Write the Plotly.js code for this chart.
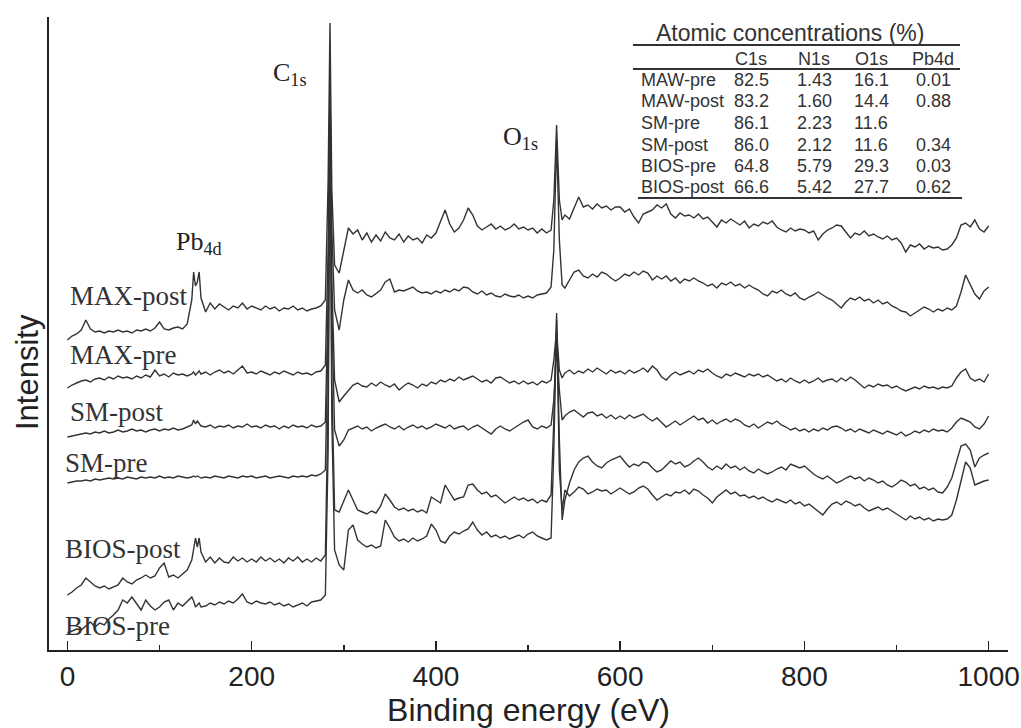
<!DOCTYPE html>
<html><head><meta charset="utf-8">
<script src="https://cdn.plot.ly/plotly-3.0.1.min.js"></script>
<style>html,body{margin:0;padding:0;background:#fff;} #chart{width:1021px;height:728px;}</style>
</head><body><div id="chart"></div>
<script>
// Binding energy grid (eV)
const energy = [
0,5,10,15,20,25,30,35,40,45,50,55,60,65,70,75,80,85,90,95,100,105,110,115,120,125,130,
135,137,139,141,143,145,
150,155,160,165,170,175,180,185,190,195,200,205,210,215,220,225,230,235,240,245,250,255,260,265,270,275,
280,283,285,287,290,
295,300,305,310,315,320,325,330,335,340,345,350,355,360,365,370,375,380,385,390,395,400,405,410,415,420,425,430,435,440,445,450,455,460,465,470,475,480,485,490,495,500,505,510,515,520,
525,528,531,534,537,
540,545,550,555,560,565,570,575,580,585,590,595,600,605,610,615,620,625,630,635,640,645,650,655,660,665,670,675,680,685,
690,695,700,705,710,715,720,725,730,735,740,745,750,755,760,765,770,775,780,785,790,795,800,805,810,815,820,825,830,835,
840,845,850,855,860,865,870,875,880,885,890,895,900,905,910,915,920,925,930,935,940,945,950,955,960,965,970,975,980,985,
990,995,1000];

// Offset intensities (arbitrary units)
const maxPost = [
310,314,316,320,330,321,318,319,317,319,318,320,318,319,317,320,319,321,319,322,328,321,320,322,323,321,326,
350,378,364,368,378,352,
338,347,341,346,343,340,344,342,347,341,344,342,340,344,341,343,339,342,341,344,340,342,339,341,342,344,
350,470,627,460,385,
377,400,422,416,420,410,417,408,415,409,418,412,410,416,408,414,410,412,407,415,412,417,428,440,426,418,422,430,442,435,424,420,423,426,421,424,420,422,426,421,423,420,422,417,421,417,
420,450,525,450,430,
435,431,442,453,443,445,441,446,442,444,440,443,443,438,441,433,427,436,438,440,445,442,446,436,432,437,434,435,432,436,
431,433,428,423,430,427,431,428,425,429,422,426,424,428,426,429,423,420,418,422,419,421,420,417,419,410,416,420,422,425,
424,418,412,417,415,419,414,416,413,411,414,410,412,407,398,405,403,406,401,404,402,403,400,401,405,412,425,427,423,430,
421,418,424];

const maxPre = [
262,265,267,269,270,268,271,272,270,273,271,274,272,273,271,274,272,275,273,280,274,276,273,277,275,276,274,
276,278,275,277,279,276,
278,275,278,280,277,279,276,280,284,277,278,276,279,277,275,278,276,279,277,275,278,276,277,275,278,279,
285,400,565,420,340,
320,350,370,360,357,360,355,353,357,360,368,371,358,360,359,361,363,359,357,358,356,359,357,360,358,361,359,363,362,358,356,359,355,357,354,353,356,354,353,355,352,354,352,355,356,357,
363,400,510,410,365,
362,370,378,380,374,372,376,373,378,376,372,369,372,376,374,378,375,379,377,370,374,371,374,369,372,367,371,369,372,369,
367,364,366,362,367,365,368,364,366,362,365,362,360,356,354,359,357,360,356,354,357,352,350,353,355,358,355,352,350,346,
342,348,352,350,353,349,351,347,350,346,348,344,342,339,338,334,337,340,343,341,338,341,339,342,340,344,358,375,365,356,
351,359,363];

const smPost = [
213,214,215,216,217,216,218,217,219,217,218,220,218,219,221,219,220,218,220,221,219,221,220,222,220,221,223,
225,230,226,229,226,224,
223,225,222,224,223,225,222,224,223,226,223,224,222,225,223,224,221,224,222,225,223,224,222,225,223,224,
228,350,560,370,270,
248,254,260,265,267,264,263,267,264,268,265,263,266,260,264,267,265,262,266,264,268,266,270,268,271,269,273,270,272,274,271,268,270,267,272,273,270,267,269,266,269,266,268,265,269,267,
270,290,320,280,272,
277,280,276,279,277,281,278,282,279,276,280,277,279,276,280,277,279,282,278,284,280,273,270,275,278,275,277,279,276,280,
278,281,277,274,272,276,274,277,275,273,276,274,276,273,275,272,269,271,268,272,269,267,270,267,269,272,268,270,271,268,
272,269,273,270,266,262,265,263,266,264,265,262,264,261,259,261,263,261,264,262,263,261,263,262,264,272,278,281,272,269,
271,268,276];

const smPre = [
167,168,169,169,170,169,171,170,171,172,171,172,171,173,172,171,173,172,173,172,174,172,173,172,174,173,172,
173,174,173,174,173,172,
173,172,174,173,172,174,173,172,174,173,174,172,173,174,172,173,174,173,172,174,173,174,173,175,174,176,
180,320,550,340,220,
204,210,220,222,224,221,223,219,222,224,226,223,221,224,220,223,225,222,224,221,223,226,224,222,225,221,223,224,220,223,225,222,219,216,221,224,221,219,222,225,228,230,223,221,224,222,
225,250,305,260,230,
234,238,240,236,233,237,238,234,236,232,235,231,234,231,235,232,234,236,232,229,232,227,223,226,229,225,228,231,234,230,
232,227,230,226,229,231,228,231,229,225,223,226,222,225,228,226,229,225,223,220,222,219,221,218,221,219,222,220,223,224,
222,219,221,218,221,219,217,220,218,216,219,217,215,218,214,216,219,217,220,218,221,219,220,218,222,228,232,230,228,223,
221,226,234];

const biosPost = [
55,58,62,65,72,68,64,62,64,61,63,65,72,68,66,70,72,75,72,74,82,87,73,75,72,76,80,
90,100,112,103,112,98,
88,93,87,92,88,87,93,89,92,88,91,88,93,89,92,88,91,87,92,89,93,88,91,88,92,89,
95,250,590,270,140,
138,150,160,150,140,138,136,139,137,144,156,150,143,140,142,139,141,138,140,137,153,150,147,165,158,150,152,153,165,166,160,156,158,153,155,151,147,150,153,150,152,149,151,147,150,148,
155,230,337,210,130,
150,167,180,188,192,194,188,184,182,187,190,192,194,188,183,186,184,188,187,182,178,180,184,189,186,188,183,185,189,192,
188,183,180,184,181,186,182,184,180,183,179,177,181,178,176,178,181,183,180,186,184,182,184,180,176,173,171,174,170,167,
169,172,174,171,173,169,172,170,167,169,165,163,166,170,168,164,166,161,163,160,162,158,157,163,172,188,204,206,200,183,
192,195,197];

const biosPre = [
17,19,21,20,24,28,23,27,25,31,35,40,50,47,53,46,40,50,44,40,43,48,50,40,47,44,49,
53,49,43,45,47,43,
44,47,45,48,46,49,47,51,56,48,46,49,47,46,48,45,47,44,46,43,45,47,44,48,49,50,
55,200,530,230,100,
85,80,120,125,110,106,103,105,102,104,130,122,113,109,111,108,112,109,111,114,126,120,109,107,114,118,116,119,121,128,120,115,118,113,115,112,114,111,113,115,112,116,118,114,112,110,
112,200,330,180,140,
160,154,158,163,161,156,158,161,159,160,156,159,162,159,156,158,162,164,161,155,150,153,156,154,158,157,160,156,161,159,
155,152,147,153,157,160,156,158,154,155,152,154,151,153,150,148,151,149,147,150,146,148,144,146,142,138,135,141,146,148,
145,149,147,144,146,142,139,141,143,140,142,139,136,133,130,134,131,133,130,132,129,131,130,131,135,150,170,188,182,165,
167,169,170];

const seriesNames = ['MAX-post','MAX-pre','SM-post','SM-pre','BIOS-post','BIOS-pre'];
const seriesData = [maxPost, maxPre, smPost, smPre, biosPost, biosPre];

const tableTitle = 'Atomic concentrations (%)';
const tableCols = ['C1s','N1s','O1s','Pb4d'];
const tableRows = ['MAW-pre','MAW-post','SM-pre','SM-post','BIOS-pre','BIOS-post'];
const c1sConc = ['82.5','83.2','86.1','86.0','64.8','66.6'];
const n1sConc = ['1.43','1.60','2.23','2.12','5.79','5.42'];
const o1sConc = ['16.1','14.4','11.6','11.6','29.3','27.7'];
const pb4dConc = ['0.01','0.88','','0.34','0.03','0.62'];

const peakLabels = ['C<sub>1s</sub>','O<sub>1s</sub>','Pb<sub>4d</sub>'];

// ---- layout helpers (pixel -> paper) ----
const L = 49, T = 17, W = 959, H = 633;
const fx = p => (p - L) / W;
const fy = p => (T + H - p) / H;

const traces = seriesData.map((ys, i) => ({
  type: 'scatter', mode: 'lines', name: seriesNames[i],
  x: energy, y: ys,
  line: {color: '#333333', width: 1.4},
  hoverinfo: 'skip', showlegend: false
}));

const serif = 'Liberation Serif, Times New Roman, serif';
const sans = 'Liberation Sans, Arial, sans-serif';

const labelPos = [[68, 296], [68, 355], [68, 412], [63, 463], [63, 549], [63, 626]];
const annotations = [];
seriesNames.forEach((n, i) => annotations.push({
  xref: 'paper', yref: 'paper', x: fx(labelPos[i][0]), y: fy(labelPos[i][1]),
  xanchor: 'left', yanchor: 'middle', showarrow: false, text: n,
  font: {family: serif, size: 27, color: '#333'}
}));
const peakPos = [[271, 74], [501, 138], [174, 243]];
peakLabels.forEach((t, i) => annotations.push({
  xref: 'paper', yref: 'paper', x: fx(peakPos[i][0]), y: fy(peakPos[i][1]),
  xanchor: 'left', yanchor: 'middle', showarrow: false, text: t,
  font: {family: serif, size: 26, color: '#222'}
}));

// y-axis title placed as rotated text
annotations.push({xref:'paper', yref:'paper', x: fx(27), y: fy(372), xanchor:'center', yanchor:'middle',
  showarrow:false, textangle:-90, text:'Intensity', font:{family: sans, size: 31, color:'#222'}});

// table
const tfont = {family: sans, size: 18, color: '#333'};
annotations.push({xref:'paper', yref:'paper', x: fx(790), y: fy(33), xanchor:'center', yanchor:'middle',
  showarrow:false, text: tableTitle, font:{family: sans, size: 23, color:'#333'}});
const colX = [751, 814, 871, 933];
tableCols.forEach((c, j) => annotations.push({xref:'paper', yref:'paper', x: fx(colX[j]), y: fy(59),
  xanchor:'center', yanchor:'middle', showarrow:false, text:c, font:tfont}));
const rowY = [80, 101, 123, 145, 166, 187];
const colsData = [c1sConc, n1sConc, o1sConc, pb4dConc];
tableRows.forEach((r, i) => {
  annotations.push({xref:'paper', yref:'paper', x: fx(639), y: fy(rowY[i]), xanchor:'left', yanchor:'middle',
    showarrow:false, text:r, font:tfont});
  colsData.forEach((col, j) => {
    if (col[i] !== '') annotations.push({xref:'paper', yref:'paper', x: fx(colX[j]), y: fy(rowY[i]),
      xanchor:'center', yanchor:'middle', showarrow:false, text: col[i], font:tfont});
  });
});

const rule = (x0, x1, y) => ({type:'line', xref:'paper', yref:'paper', x0: fx(x0), x1: fx(x1), y0: fy(y), y1: fy(y),
  line:{color:'#333', width:2}});
const shapes = [rule(633, 960, 45), rule(633, 960, 69), rule(638, 962, 198)];

const layout = {
  width: 1021, height: 728,
  margin: {l: L, r: 1021 - L - W, t: T, b: 728 - T - H, pad: 0},
  paper_bgcolor: '#fff', plot_bgcolor: '#fff',
  font: {family: sans, color: '#222'},
  xaxis: {
    range: [-20, 1021], showgrid: false, zeroline: false,
    showline: true, linecolor: '#222', linewidth: 2,
    ticks: 'inside', ticklen: 9, tickwidth: 1.5, tickcolor: '#222',
    tick0: 0, dtick: 200,
    minor: {dtick: 100, ticks: 'inside', ticklen: 5, tickwidth: 1.5, tickcolor: '#222', showgrid: false},
    tickfont: {family: sans, size: 28, color: '#222'},
    title: {text: 'Binding energy (eV)', font: {family: sans, size: 32, color: '#222'}, standoff: 4}
  },
  yaxis: {
    range: [0, 633], showgrid: false, zeroline: false,
    showline: true, linecolor: '#222', linewidth: 2,
    ticks: '', showticklabels: false
  },
  annotations: annotations,
  shapes: shapes,
  showlegend: false
};

Plotly.newPlot('chart', traces, layout, {displayModeBar: false, staticPlot: true});
</script>
</body></html>
